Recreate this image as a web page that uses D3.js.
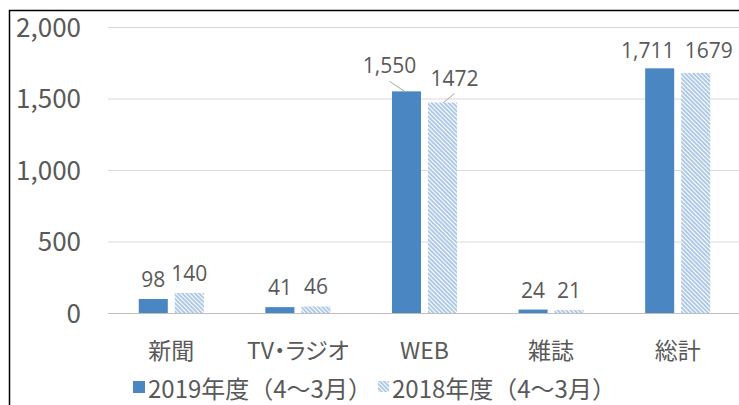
<!DOCTYPE html>
<html>
<head>
<meta charset="utf-8">
<script src="https://cdn.jsdelivr.net/npm/d3@7"></script>
<style>
  body { margin: 0; background: #fff; }
  svg { display: block; }
  text { font-family: "Noto Sans CJK JP", "Noto Sans", sans-serif; fill: #595959; }
  .cat { font-feature-settings: "palt"; }
  .val { font-family: "Open Sans", "Noto Sans CJK JP", sans-serif; }
</style>
</head>
<body>
<svg id="chart" width="739" height="405"></svg>
<script>
// data
const categories = ['新聞', 'TV・ラジオ', 'WEB', '雑誌', '総計'];
const seriesNames = ['2019年度（4～3月）', '2018年度（4～3月）'];
const values2019 = [98, 41, 1550, 24, 1711];
const values2018 = [140, 46, 1472, 21, 1679];
// label text exactly as printed (formats differ in the original)
const labels2019 = ['98', '41', '1,550', '24', '1,711'];
const labels2018 = ['140', '46', '1472', '21', '1679'];
const yTicks = [0, 500, 1000, 1500, 2000];

const svg = d3.select('#chart');
const W = 739, H = 405;
const blue = '#4a86c2';
const hatchBlue = '#6c9fd4';

// hatch pattern for the 2018 series
const defs = svg.append('defs');
const pat = defs.append('pattern')
  .attr('id', 'hatch')
  .attr('patternUnits', 'userSpaceOnUse')
  .attr('width', 3)
  .attr('height', 3)
  .attr('patternTransform', 'rotate(-45)');
pat.append('rect').attr('width', 3).attr('height', 3).attr('fill', '#fff');
pat.append('line')
  .attr('x1', 1).attr('y1', 0).attr('x2', 1).attr('y2', 3)
  .attr('stroke', hatchBlue).attr('stroke-width', 1.1);

// outer frame (only left and top edges are inside the picture)
svg.append('rect')
  .attr('x', 9.5).attr('y', 10.5)
  .attr('width', 800).attr('height', 600)
  .attr('fill', 'none')
  .attr('stroke', '#000')
  .attr('stroke-width', 1.5);

const y = d3.scaleLinear().domain([0, 2000]).range([313, 27]);
const x0 = d3.scaleBand().domain(categories).range([108, 741]);
const bw = x0.bandwidth();
const x1 = d3.scaleBand().domain([0, 1]).range([bw * 0.243, bw * 0.757]).paddingInner(0.194);

// gridlines + tick labels
const yAxis = d3.axisLeft(y)
  .tickValues(yTicks)
  .tickFormat(d3.format(','))
  .tickSize(-(W - 108))
  .tickPadding(27);
const gy = svg.append('g').attr('transform', 'translate(108,0)').call(yAxis);
gy.select('.domain').remove();
gy.selectAll('.tick line').attr('stroke', d => d === 0 ? '#bfbfbf' : '#d9d9d9').attr('stroke-width', 1);
gy.selectAll('.tick text')
  .attr('fill', '#595959')
  .style('font-size', '26px')
  .attr('dy', '0.36em');

// bars
const rows = categories.map((c, i) => ({
  cat: c,
  vals: [values2019[i], values2018[i]],
  labs: [labels2019[i], labels2018[i]]
}));

const groups = svg.append('g').selectAll('g')
  .data(rows)
  .join('g')
  .attr('transform', d => `translate(${x0(d.cat)},0)`);

groups.selectAll('rect')
  .data(d => d.vals.map((v, s) => ({ v, s })))
  .join('rect')
  .attr('x', d => x1(d.s))
  .attr('y', d => y(d.v))
  .attr('width', x1.bandwidth())
  .attr('height', d => y(0) - y(d.v))
  .attr('fill', d => d.s === 0 ? blue : 'url(#hatch)');

// data labels; a few were dragged by hand in the original (with leader lines)
const nudge = {
  'WEB': [{ dx: -17, dy: -18, leader: true }, { dx: 12, dy: -17, leader: true }],
  '総計': [{ dx: -12, dy: -10 }, { dx: 13, dy: -15 }]
};

rows.forEach(r => {
  r.vals.forEach((v, s) => {
    const cx = x0(r.cat) + x1(s) + x1.bandwidth() / 2;
    const top = y(v);
    const n = (nudge[r.cat] || [])[s] || { dx: 0, dy: -12 };
    const tx = cx + n.dx, ty = top + n.dy;
    if (n.leader) {
      svg.append('line')
        .attr('x1', s === 0 ? cx - 2 : cx + 1).attr('y1', top)
        .attr('x2', s === 0 ? tx : cx + 12).attr('y2', ty + 8)
        .attr('stroke', '#a6a6a6').attr('stroke-width', 1);
    }
    svg.append('text')
      .attr('class', 'val')
      .attr('x', tx).attr('y', ty)
      .attr('text-anchor', 'middle')
      .style('font-size', '21px')
      .attr('fill', '#404040')
      .text(r.labs[s]);
  });
});

// category labels
svg.append('g').selectAll('text')
  .data(categories)
  .join('text')
  .attr('class', 'cat')
  .attr('x', d => x0(d) + bw / 2)
  .attr('y', 359)
  .attr('text-anchor', 'middle')
  .style('font-size', '23px')
  .text(d => d);

// legend
const legendX = [133, 378];
const leg = svg.append('g').selectAll('g')
  .data(seriesNames)
  .join('g')
  .attr('transform', (d, i) => `translate(${legendX[i]},381)`);
leg.append('rect')
  .attr('width', (d, i) => i === 0 ? 12 : 11)
  .attr('height', (d, i) => i === 0 ? 12 : 11)
  .attr('fill', (d, i) => i === 0 ? blue : 'url(#hatch)');
leg.append('text')
  .attr('x', (d, i) => i === 0 ? 15 : 14)
  .attr('y', 17)
  .style('font-size', '24px')
  .text(d => d);
</script>
</body>
</html>
